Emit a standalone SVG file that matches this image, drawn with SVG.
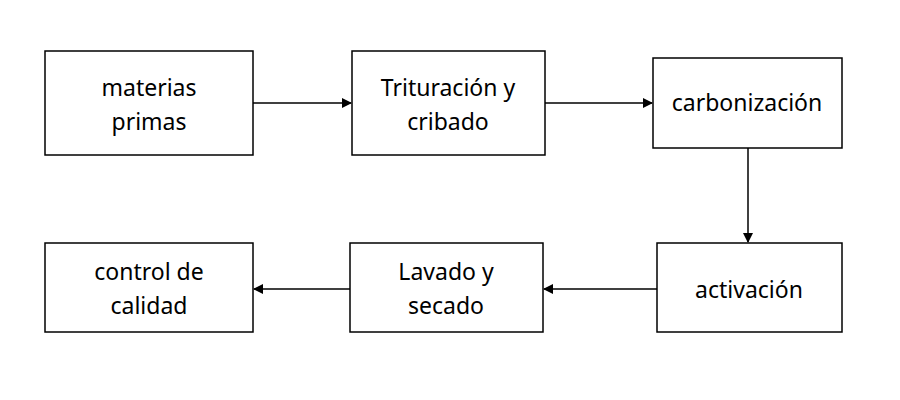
<svg xmlns="http://www.w3.org/2000/svg" width="900" height="400" viewBox="0 0 900 400">
<style>
rect{fill:#fff;stroke:#000;stroke-width:1.5}
text{font-family:"Noto Sans","Liberation Sans",sans-serif;font-size:23px;fill:#000;text-anchor:middle}
line{stroke:#000;stroke-width:1.5;marker-end:url(#a)}
</style>
<defs><marker id="a" markerWidth="10" markerHeight="10" refX="9" refY="5" orient="auto" markerUnits="userSpaceOnUse"><path d="M0,0 L10,5 L0,10 Z" fill="#000"/></marker></defs>
<rect width="900" height="400" style="stroke:none"/>
<g id="n1"><rect x="45" y="51" width="208" height="104"/><text x="149" y="96">materias</text><text x="149" y="130">primas</text></g>
<g id="n2"><rect x="352" y="51" width="193" height="104"/><text x="448" y="96">Trituración y</text><text x="448" y="130">cribado</text></g>
<g id="n3"><rect x="653" y="58" width="189" height="90"/><text x="747" y="111">carbonización</text></g>
<g id="n4"><rect x="657" y="243" width="185" height="89"/><text x="749" y="298">activación</text></g>
<g id="n5"><rect x="350" y="243" width="193" height="89"/><text x="446" y="280">Lavado y</text><text x="446" y="314">secado</text></g>
<g id="n6"><rect x="45" y="243" width="208" height="89"/><text x="149" y="280">control de</text><text x="149" y="314">calidad</text></g>
<g id="connectors">
<line x1="253" y1="103" x2="351" y2="103"/>
<line x1="545" y1="103" x2="652" y2="103"/>
<line x1="748" y1="148" x2="748" y2="242"/>
<line x1="657" y1="289" x2="544" y2="289"/>
<line x1="350" y1="289" x2="254" y2="289"/>
</g>
</svg>
